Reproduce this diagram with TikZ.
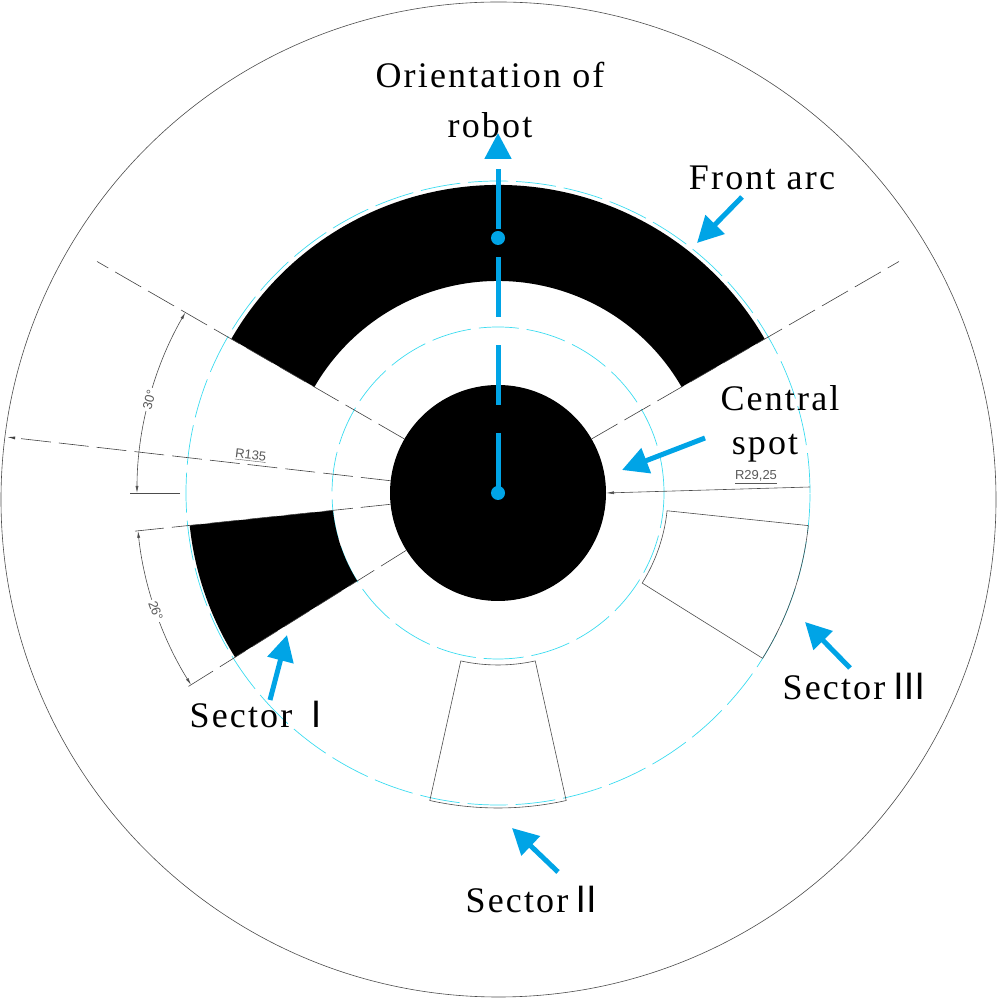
\documentclass[tikz,border=0pt]{standalone}
\usepackage{fontspec}
\setmainfont{Liberation Serif}
\newfontfamily\cjk{Noto Sans CJK SC}
\newfontfamily\dimf{Liberation Sans}
\usetikzlibrary{arrows.meta}
\definecolor{rbblue}{RGB}{0,164,230}
\definecolor{cadcyan}{RGB}{60,220,240}
\tikzset{
  lbl/.style={font=\fontsize{36}{38}\selectfont\addfontfeature{LetterSpace=6}, inner sep=0pt},
  dimtxt/.style={font=\dimf\fontsize{13}{14}\selectfont, text=black!65, inner sep=1pt},
  dimtxtw/.style={dimtxt, fill=white, inner sep=2pt},
  thin/.style={draw=black!70, line width=0.6pt},
  cdash/.style={draw=black!75, line width=0.6pt, dash pattern=on 30pt off 8pt},
  cyanc/.style={draw=cadcyan, line width=0.7pt, dash pattern=on 40pt off 8pt},
  barrow/.style={draw=rbblue, line width=5pt, -{Triangle[length=26pt,width=26pt]}},
  dimarr/.style={draw=black!70, line width=0.6pt, {Latex[length=7pt,width=3pt]}-{Latex[length=7pt,width=3pt]}},
}
\begin{document}
\begin{tikzpicture}[x=1pt,y=1pt]
\useasboundingbox (0,0) rectangle (997,1000);
\draw[thin] (498.5,500.5) circle (497.5);
\begin{scope}[shift={(498,507)}]
  % cyan circles
  \draw[cyanc] (0,0) circle (166);
  \draw[cyanc] (0,0) circle (312);
  % front arc
  \fill (30:212) arc (30:150:212) -- (150:308) arc (150:30:308) -- cycle;
  % sector I
  \fill (186:166) arc (186:212:166) -- (212:310) arc (212:186:310) -- cycle;
  % central spot
  \fill (0,0) circle (108);
  % sector II and III outlines
  \draw[thin] (257.5:172) arc (257.5:282.5:172) -- (282.5:315) arc (282.5:257.5:315) -- cycle;
  \draw[thin] (-6:170) arc (-6:-32:170) -- (-32:312) arc (-32:-6:312) -- cycle;
  % dashed construction lines
  \draw[cdash] (150:108) -- (150:463);
  \draw[cdash] (30:108) -- (30:463);
  \draw[cdash] (186:108) -- (186:365);
  \draw[cdash] (212:108) -- (212:365);
  % R135
  \coordinate (r1) at (173.5:494);
  \draw[cdash, -{Latex[length=8pt,width=3pt]}] (173.5:108) -- (r1);
  \node[dimtxt, rotate=-6.5] (r135) at (173.5:250) [yshift=9pt] {\underline{R135}};
  % angle dimensions
  \draw[thin] (180:318) -- (180:368);
  \draw[dimarr] (150:361) arc (150:180:361);
  \node[dimtxtw, rotate=75] (a30) at (165:361) {30°};
  \draw[dimarr] (186:362) arc (186:212:362);
  \node[dimtxtw, rotate=-70] (a26) at (199:362) {26°};
  % R29,25
  \coordinate (rs) at (108,0);
  \coordinate (re) at (312,6);
  \draw[thin, -{Latex[length=8pt,width=3pt]}] (re) -- (rs);
  \node[dimtxt] (r29) at (258,16) {\underline{R29,25}};
  % orientation arrow
  \coordinate (oc) at (0,0);
  \coordinate (ot) at (0,360);
  \draw[draw=rbblue, line width=5pt, dash pattern=on 60pt off 14pt on 0pt off 14pt, -{Triangle[length=26pt,width=26pt]}] (oc) -- (ot);
  \fill[rbblue] (oc) circle (7);
  \fill[rbblue] (0,255) circle (7);
\end{scope}
% labels
\node[lbl] (or1) at (490,925) {Orientation of};
\node[lbl] (or2) at (490,875) {robot};
\node[lbl] (fa) at (762,822) {Front arc};
\node[lbl] (cs1) at (780,602) {Central};
\node[lbl] (cs2) at (765,552) {spot};
\node[lbl] (s3) at (855,313) {Sector\,{\cjk Ⅲ}};
\node[lbl] (s1) at (262,285) {Sector\,{\cjk Ⅰ}};
\node[lbl] (s2) at (535,100) {Sector{\cjk Ⅱ}};
% blue pointer arrows
\draw[barrow] (742,803) -- (697,757);
\draw[barrow] (705,562) -- (622,530);
\draw[barrow] (850,332) -- (805,378);
\draw[barrow] (558,128) -- (512,172);
\draw[barrow] (270,300) -- (287,365);
\end{tikzpicture}
\end{document}
